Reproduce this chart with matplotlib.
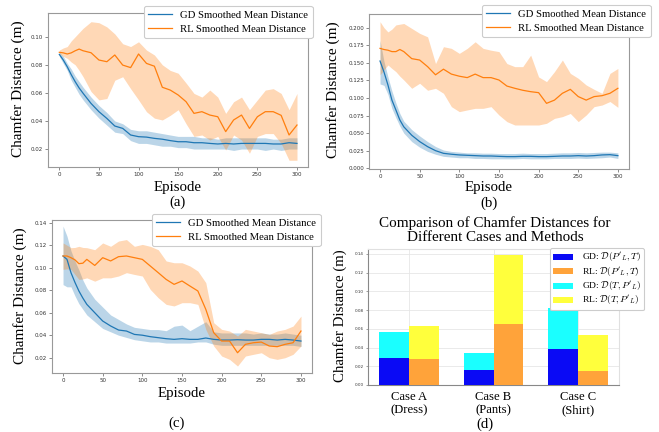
import matplotlib
matplotlib.use("Agg")
import matplotlib.pyplot as plt
import numpy as np

plt.rcParams['font.family'] = ['Liberation Serif', 'DejaVu Serif']
plt.rcParams['mathtext.fontset'] = 'cm'

W, H = 659, 432

# ---------------- data ----------------
episodes = [0, 5, 10, 15, 20, 25, 30, 40, 50, 60, 70, 80, 90, 100, 110, 120, 130, 140,
            150, 160, 170, 180, 190, 200, 210, 220, 230, 240, 250, 260, 270, 280, 290, 300]

# panel (a)
a_rl_mean = [0.0889, 0.0885, 0.0877, 0.0885, 0.090, 0.0912, 0.090, 0.0886, 0.0834, 0.0822, 0.087, 0.0798,
             0.078, 0.0877, 0.081, 0.079, 0.064, 0.062, 0.0585, 0.0537, 0.0454, 0.0466, 0.0442, 0.043,
             0.0324, 0.0407, 0.0442, 0.0347, 0.043, 0.0466, 0.0466, 0.044, 0.030, 0.0371]
a_rl_lo = [0.088, 0.086, 0.0846, 0.082, 0.080, 0.076, 0.0715, 0.061, 0.055, 0.056, 0.069, 0.0715,
           0.063, 0.055, 0.0466, 0.042, 0.0407, 0.044, 0.048, 0.038, 0.029, 0.030, 0.0264, 0.029,
           0.0193, 0.030, 0.0264, 0.017, 0.029, 0.031, 0.031, 0.024, 0.012, 0.012]
a_rl_hi = [0.0905, 0.092, 0.093, 0.097, 0.100, 0.103, 0.106, 0.1107, 0.110, 0.107, 0.102, 0.095,
           0.093, 0.0964, 0.0905, 0.087, 0.080, 0.076, 0.074, 0.067, 0.0596, 0.057, 0.062, 0.057,
           0.0454, 0.0537, 0.057, 0.048, 0.055, 0.062, 0.063, 0.0596, 0.048, 0.0596]
a_gd_mean = [0.0874, 0.0834, 0.0786, 0.073, 0.068, 0.0635, 0.0597, 0.0525, 0.0466, 0.0418, 0.0364, 0.0347,
             0.030, 0.0288, 0.0285, 0.0276, 0.027, 0.026, 0.0252, 0.0252, 0.0245, 0.0245, 0.024, 0.0236,
             0.024, 0.0236, 0.024, 0.024, 0.024, 0.024, 0.0236, 0.0236, 0.0245, 0.024]
a_gd_lo = [0.086, 0.081, 0.076, 0.069, 0.064, 0.059, 0.055, 0.048, 0.042, 0.037, 0.032, 0.031,
           0.026, 0.024, 0.024, 0.023, 0.022, 0.022, 0.021, 0.021, 0.020, 0.020, 0.020, 0.020,
           0.020, 0.019, 0.020, 0.020, 0.020, 0.019, 0.020, 0.019, 0.020, 0.020]
a_gd_hi = [0.089, 0.086, 0.081, 0.077, 0.072, 0.068, 0.064, 0.057, 0.051, 0.046, 0.040, 0.038,
           0.034, 0.033, 0.033, 0.032, 0.031, 0.030, 0.029, 0.029, 0.029, 0.028, 0.028, 0.027,
           0.028, 0.028, 0.028, 0.028, 0.028, 0.028, 0.027, 0.027, 0.028, 0.028]

# panel (b)
b_rl_mean = [0.1706, 0.169, 0.168, 0.166, 0.166, 0.169, 0.166, 0.156, 0.154, 0.1446, 0.133, 0.141,
             0.134, 0.131, 0.129, 0.134, 0.129, 0.129, 0.1256, 0.117, 0.1138, 0.111, 0.109, 0.1076,
             0.0924, 0.097, 0.1067, 0.1123, 0.102, 0.097, 0.102, 0.1033, 0.1067, 0.1138]
b_rl_lo = [0.133, 0.140, 0.147, 0.142, 0.1375, 0.131, 0.1256, 0.1138, 0.121, 0.111, 0.1138, 0.1067,
           0.0877, 0.0806, 0.083, 0.0853, 0.0853, 0.0877, 0.0758, 0.0664, 0.0616, 0.0616, 0.0616, 0.0616,
           0.064, 0.071, 0.0735, 0.078, 0.0664, 0.0758, 0.0877, 0.090, 0.095, 0.0867]
b_rl_hi = [0.2086, 0.200, 0.194, 0.198, 0.204, 0.205, 0.206, 0.199, 0.192, 0.187, 0.149, 0.173,
           0.1706, 0.1635, 0.1706, 0.180, 0.1706, 0.168, 0.166, 0.149, 0.1446, 0.1446, 0.161, 0.130,
           0.1233, 0.1375, 0.154, 0.135, 0.128, 0.1185, 0.1123, 0.1067, 0.135, 0.142]
b_gd_mean = [0.1526, 0.137, 0.1185, 0.097, 0.083, 0.0687, 0.059, 0.047, 0.038, 0.0308, 0.0251, 0.0213,
             0.020, 0.019, 0.0185, 0.018, 0.0175, 0.0175, 0.017, 0.0166, 0.0166, 0.017, 0.017, 0.0166,
             0.0166, 0.017, 0.0175, 0.0175, 0.018, 0.0175, 0.018, 0.019, 0.0194, 0.018]
b_gd_lo = [0.120, 0.118, 0.105, 0.085, 0.072, 0.060, 0.050, 0.038, 0.030, 0.024, 0.020, 0.017,
           0.016, 0.015, 0.015, 0.014, 0.014, 0.0135, 0.0135, 0.0135, 0.0135, 0.014, 0.0135, 0.0135,
           0.0135, 0.014, 0.014, 0.014, 0.0145, 0.014, 0.0145, 0.015, 0.016, 0.014]
b_gd_hi = [0.182, 0.152, 0.130, 0.110, 0.093, 0.078, 0.067, 0.055, 0.046, 0.038, 0.031, 0.026,
           0.024, 0.023, 0.022, 0.022, 0.0215, 0.0215, 0.021, 0.021, 0.021, 0.0215, 0.021, 0.021,
           0.021, 0.0215, 0.022, 0.022, 0.0225, 0.022, 0.0225, 0.023, 0.023, 0.022]

# panel (c)
c_rl_mean = [0.1104, 0.1104, 0.1089, 0.107, 0.1036, 0.104, 0.1074, 0.102, 0.1089, 0.106, 0.1098, 0.1104,
             0.1089, 0.1074, 0.1015, 0.0956, 0.0896, 0.0852, 0.0882, 0.0837, 0.0793, 0.063, 0.0422, 0.0348,
             0.0348, 0.0244, 0.0319, 0.0333, 0.0339, 0.0304, 0.0298, 0.0319, 0.0333, 0.0437]
c_rl_lo = [0.0985, 0.099, 0.0985, 0.094, 0.0896, 0.090, 0.091, 0.088, 0.091, 0.091, 0.0926, 0.0956,
           0.094, 0.0926, 0.0807, 0.0733, 0.0674, 0.066, 0.0689, 0.0689, 0.0674, 0.0452, 0.0304, 0.0215,
           0.0185, 0.0126, 0.0215, 0.023, 0.0244, 0.020, 0.0185, 0.020, 0.023, 0.0304]
c_rl_hi = [0.122, 0.120, 0.1178, 0.118, 0.119, 0.118, 0.1178, 0.116, 0.122, 0.119, 0.1237, 0.125,
           0.119, 0.1207, 0.119, 0.116, 0.106, 0.1044, 0.1044, 0.1015, 0.097, 0.0867, 0.0511, 0.0452,
           0.0437, 0.0393, 0.0452, 0.0437, 0.0422, 0.0407, 0.0437, 0.0452, 0.0481, 0.057]
c_gd_mean = [0.1104, 0.1074, 0.0956, 0.087, 0.0793, 0.073, 0.0674, 0.060, 0.0526, 0.0482, 0.0446, 0.0437,
             0.0407, 0.040, 0.0387, 0.0378, 0.0369, 0.0363, 0.0369, 0.0363, 0.0363, 0.0375, 0.0363, 0.0357,
             0.0357, 0.036, 0.0357, 0.0357, 0.0363, 0.0363, 0.0357, 0.0363, 0.0357, 0.0348]
c_gd_lo = [0.085, 0.083, 0.083, 0.075, 0.068, 0.063, 0.058, 0.052, 0.046, 0.043, 0.040, 0.038,
           0.036, 0.035, 0.034, 0.034, 0.033, 0.033, 0.033, 0.033, 0.034, 0.034, 0.032, 0.031,
           0.031, 0.031, 0.031, 0.031, 0.031, 0.031, 0.031, 0.031, 0.031, 0.030]
c_gd_hi = [0.137, 0.128, 0.115, 0.106, 0.098, 0.089, 0.082, 0.072, 0.065, 0.058, 0.054, 0.050,
           0.047, 0.046, 0.045, 0.045, 0.044, 0.048, 0.049, 0.044, 0.048, 0.052, 0.043, 0.042,
           0.042, 0.042, 0.042, 0.041, 0.042, 0.041, 0.041, 0.042, 0.041, 0.040]

# panel (d)
cases = ["Case A\n(Dress)", "Case B\n(Pants)", "Case C\n(Shirt)"]
gd_PT = [0.029, 0.0165, 0.038]
rl_PT = [0.028, 0.065, 0.0145]
gd_TP = [0.028, 0.018, 0.044]
rl_TP = [0.035, 0.074, 0.039]
bar_labels = [r"GD: $\mathcal{D}(P'_L, T)$", r"RL: $\mathcal{D}(P'_L, T)$",
              r"GD: $\mathcal{D}(T, P'_L)$", r"RL: $\mathcal{D}(T, P'_L)$"]
bar_colors = ['#0a0af5', '#ffa33a', '#1affff', '#ffff3c']

line_labels = ["GD Smoothed Mean Distance", "RL Smoothed Mean Distance"]

# ---------------- figure ----------------
fig = plt.figure(figsize=(W / 100, H / 100), dpi=100)


def px_axes(x0, y0, x1, y1):
    return fig.add_axes([x0 / W, 1 - y1 / H, (x1 - x0) / W, (y1 - y0) / H])


def ftext(x, y, s, **kw):
    fig.text(x / W, 1 - y / H, s, ha='center', va='center', **kw)


def style_axes(ax):
    for sp in ax.spines.values():
        sp.set_color('#999999')
        sp.set_linewidth(0.8)
    ax.tick_params(length=2, width=0.6, color='#777777', labelsize=4, labelcolor='#333333', pad=1.5)
    for lab in ax.get_xticklabels() + ax.get_yticklabels():
        lab.set_family('DejaVu Sans')


def line_panel(box, xlim, ylim, yticks, data, legend_box):
    ax = px_axes(*box)
    gd_m, gd_l, gd_h, rl_m, rl_l, rl_h = data
    ax.fill_between(episodes, gd_l, gd_h, color='#1f77b4', alpha=0.3, lw=0)
    ax.fill_between(episodes, rl_l, rl_h, color='#ff7f0e', alpha=0.3, lw=0)
    ax.plot(episodes, gd_m, color='#1f77b4', lw=0.9, label=line_labels[0])
    ax.plot(episodes, rl_m, color='#ff7f0e', lw=0.9, label=line_labels[1])
    ax.set_xlim(*xlim)
    ax.set_ylim(*ylim)
    ax.set_xticks([0, 50, 100, 150, 200, 250, 300])
    ax.set_yticks(yticks)
    style_axes(ax)
    lx0, ly0, lx1, ly1 = legend_box
    leg = ax.legend(loc='upper left', bbox_to_anchor=(lx0 / W, 1 - ly0 / H),
                    bbox_transform=fig.transFigure, fontsize=7.7, frameon=True,
                    handlelength=2.2, handletextpad=0.8, borderpad=0.4, labelspacing=0.45,
                    borderaxespad=0)
    leg.get_frame().set_edgecolor('#cccccc')
    leg.get_frame().set_linewidth(0.8)
    leg.get_frame().set_alpha(1)
    return ax


# (a)
line_panel((48, 13, 308, 167), (-14.3, 313.9), (0.0072, 0.1169),
           [0.02, 0.04, 0.06, 0.08, 0.10],
           (a_gd_mean, a_gd_lo, a_gd_hi, a_rl_mean, a_rl_lo, a_rl_hi), (144, 6, 314, 42))
ftext(18, 89, "Chamfer Distance (m)", rotation=90, fontsize=11)
ftext(178, 187, "Episode", fontsize=10.7)
ftext(178, 202, "(a)", fontsize=10.7)

# (b)
line_panel((369, 14, 629, 169), (-13.9, 314), (-0.001, 0.2195),
           [0.0, 0.025, 0.05, 0.075, 0.1, 0.125, 0.15, 0.175, 0.2],
           (b_gd_mean, b_gd_lo, b_gd_hi, b_rl_mean, b_rl_lo, b_rl_hi), (482, 5, 651, 42))
ftext(333, 90, "Chamfer Distance (m)", rotation=90, fontsize=11)
ftext(489, 187, "Episode", fontsize=10.7)
ftext(489, 203, "(b)", fontsize=10.7)

# (c)
line_panel((52, 220, 312, 373), (-13.9, 313.9), (0.0064, 0.1424),
           [0.02, 0.04, 0.06, 0.08, 0.10, 0.12, 0.14],
           (c_gd_mean, c_gd_lo, c_gd_hi, c_rl_mean, c_rl_lo, c_rl_hi), (152, 214, 322, 250))
ftext(20, 296, "Chamfer Distance (m)", rotation=90, fontsize=11)
ftext(182, 394, "Episode", fontsize=10.7)
ftext(177, 423, "(c)", fontsize=10.7)

# (d)
axd = px_axes(368, 249, 619, 385)
x = np.arange(len(cases))
w = 0.35
axd.bar(x - w / 2, gd_PT, w, color=bar_colors[0], label=bar_labels[0], zorder=3)
axd.bar(x + w / 2, rl_PT, w, color=bar_colors[1], label=bar_labels[1], zorder=3)
axd.bar(x - w / 2, gd_TP, w, bottom=gd_PT, color=bar_colors[2], label=bar_labels[2], zorder=3)
axd.bar(x + w / 2, rl_TP, w, bottom=rl_PT, color=bar_colors[3], label=bar_labels[3], zorder=3)
axd.set_xlim(-0.485, 2.485)
axd.set_ylim(0, 0.1453)
axd.set_yticks([0.0, 0.02, 0.04, 0.06, 0.08, 0.10, 0.12, 0.14])
axd.set_xticks(x)
axd.set_xticklabels(cases)
axd.grid(True, color='#e6e6e6', lw=0.6, zorder=0)
for name, sp in axd.spines.items():
    sp.set_linewidth(0.8)
    sp.set_color('#888888' if name in ('left', 'bottom') else '#e0e0e0')
axd.tick_params(axis='y', length=1.5, width=0.5, color='#777777', labelsize=3, labelcolor='#333333', pad=1.5)
axd.tick_params(axis='x', length=0, labelsize=9.1, pad=4)
for lab in axd.get_yticklabels():
    lab.set_family('DejaVu Sans')
for lab in axd.get_xticklabels():
    lab.set_linespacing(1.2)
legd = axd.legend(loc='upper left', bbox_to_anchor=(550 / W, 1 - 248 / H),
                  bbox_transform=fig.transFigure, fontsize=6.8, frameon=True,
                  handlelength=2.1, handleheight=0.6, handletextpad=0.9, borderpad=0.35,
                  labelspacing=0.12, borderaxespad=0)
legd.get_frame().set_edgecolor('#cccccc')
legd.get_frame().set_linewidth(0.8)
legd.get_frame().set_alpha(1)
ftext(495, 230, "Comparison of Chamfer Distances for\nDifferent Cases and Methods",
      fontsize=10.9, linespacing=1.15)
ftext(340, 316, "Chamfer Distance (m)", rotation=90, fontsize=10.7)
ftext(485, 424, "(d)", fontsize=10.7)

fig.savefig("out.png", dpi=100)
